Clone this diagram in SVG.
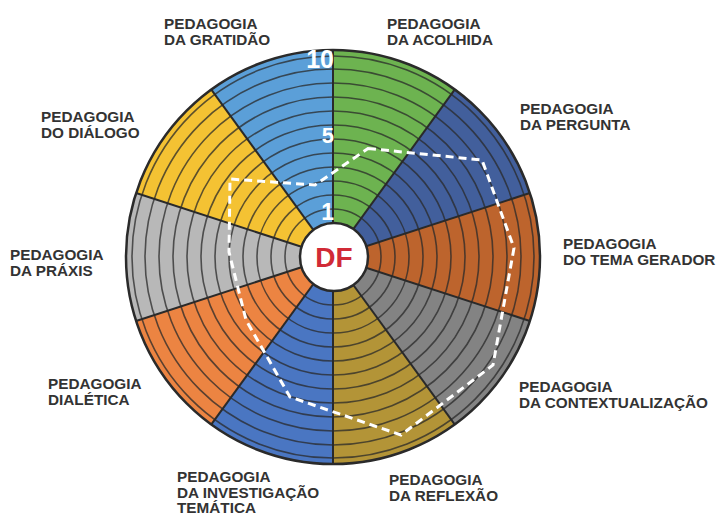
<svg xmlns="http://www.w3.org/2000/svg" width="719" height="517" viewBox="0 0 719 517">
  <style>
    .sec { stroke: none; }
    .ring { fill: none; stroke: #2a2a2a; stroke-opacity: 0.75; stroke-width: 1.6; }
    .spoke { stroke: #2a2a2a; stroke-width: 2; }
    .lbl { font-family: "Liberation Sans", Arial, sans-serif; font-weight: bold; font-size: 15.3px; fill: #333333; }
    .num { font-family: "Liberation Sans", Arial, sans-serif; font-weight: bold; fill: #ffffff; text-anchor: end; }
    .score { fill: none; stroke: #ffffff; stroke-width: 3; stroke-dasharray: 8 5; stroke-linejoin: miter; }
  </style>
  <rect width="719" height="517" fill="#ffffff"/>

  <g id="wheel">
    <g id="sector-acolhida"><path class="sec" fill="#6db350" d="M333,257 L333,50 A207,207 0 0 1 454.67,89.54 Z"/></g>
    <g id="sector-pergunta"><path class="sec" fill="#425f9c" d="M333,257 L454.67,89.54 A207,207 0 0 1 529.88,193.04 Z"/></g>
    <g id="sector-tema-gerador"><path class="sec" fill="#bd642d" d="M333,257 L529.88,193.04 A207,207 0 0 1 529.88,320.96 Z"/></g>
    <g id="sector-contextualizacao"><path class="sec" fill="#838383" d="M333,257 L529.88,320.96 A207,207 0 0 1 454.67,424.46 Z"/></g>
    <g id="sector-reflexao"><path class="sec" fill="#b39437" d="M333,257 L454.67,424.46 A207,207 0 0 1 333,464 Z"/></g>
    <g id="sector-investigacao"><path class="sec" fill="#4a76c2" d="M333,257 L333,464 A207,207 0 0 1 211.33,424.46 Z"/></g>
    <g id="sector-dialetica"><path class="sec" fill="#ec8442" d="M333,257 L211.33,424.46 A207,207 0 0 1 136.12,320.96 Z"/></g>
    <g id="sector-praxis"><path class="sec" fill="#b8b8b8" d="M333,257 L136.12,320.96 A207,207 0 0 1 136.12,193.04 Z"/></g>
    <g id="sector-dialogo"><path class="sec" fill="#f4c233" d="M333,257 L136.12,193.04 A207,207 0 0 1 211.33,89.54 Z"/></g>
    <g id="sector-gratidao"><path class="sec" fill="#5b9fd8" d="M333,257 L211.33,89.54 A207,207 0 0 1 333,50 Z"/></g>

    <g id="rings">
      <circle class="ring" cx="333" cy="257" r="48"/>
      <circle class="ring" cx="333" cy="257" r="62"/>
      <circle class="ring" cx="333" cy="257" r="76"/>
      <circle class="ring" cx="333" cy="257" r="90"/>
      <circle class="ring" cx="333" cy="257" r="104"/>
      <circle class="ring" cx="333" cy="257" r="118"/>
      <circle class="ring" cx="333" cy="257" r="132"/>
      <circle class="ring" cx="333" cy="257" r="146"/>
      <circle class="ring" cx="333" cy="257" r="160"/>
      <circle class="ring" cx="333" cy="257" r="174"/>
      <circle class="ring" cx="333" cy="257" r="188"/>
      <circle class="ring" cx="333" cy="257" r="201"/>
    </g>

    <g id="spokes">
      <line class="spoke" x1="333" y1="257" x2="333" y2="50"/>
      <line class="spoke" x1="333" y1="257" x2="454.67" y2="89.54"/>
      <line class="spoke" x1="333" y1="257" x2="529.88" y2="193.04"/>
      <line class="spoke" x1="333" y1="257" x2="529.88" y2="320.96"/>
      <line class="spoke" x1="333" y1="257" x2="454.67" y2="424.46"/>
      <line class="spoke" x1="333" y1="257" x2="333" y2="464"/>
      <line class="spoke" x1="333" y1="257" x2="211.33" y2="424.46"/>
      <line class="spoke" x1="333" y1="257" x2="136.12" y2="320.96"/>
      <line class="spoke" x1="333" y1="257" x2="136.12" y2="193.04"/>
      <line class="spoke" x1="333" y1="257" x2="211.33" y2="89.54"/>
    </g>

    <circle id="rim" cx="333" cy="257" r="207" fill="none" stroke="#2a2a2a" stroke-width="2.5"/>

    <g id="scale">
      <text class="num" x="334" y="68" font-size="25">10</text>
      <text class="num" x="334" y="143" font-size="22">5</text>
      <text class="num" x="334" y="220" font-size="23">1</text>
    </g>
  </g>

  <g id="connectors">
    <polygon id="score-line" class="score" points="368,148.5 482,160 514,248 493,365 401,435 290,397 246,320 229,252 230,179 315,185"/>
  </g>

  <g id="center-df">
    <circle cx="334" cy="257" r="34" fill="#ffffff" stroke="#2a2a2a" stroke-width="2.5"/>
    <text x="334" y="267" text-anchor="middle" font-family="Liberation Sans, Arial, sans-serif" font-weight="bold" font-size="28" fill="#d12a36">DF</text>
  </g>

  <g id="label-gratidao"><text class="lbl" x="164" y="29">PEDAGOGIA</text><text class="lbl" x="164" y="44.5">DA GRATIDÃO</text></g>
  <g id="label-acolhida"><text class="lbl" x="387" y="29">PEDAGOGIA</text><text class="lbl" x="387" y="44.5">DA ACOLHIDA</text></g>
  <g id="label-pergunta"><text class="lbl" x="520" y="114">PEDAGOGIA</text><text class="lbl" x="520" y="129.5">DA PERGUNTA</text></g>
  <g id="label-dialogo"><text class="lbl" x="41" y="122">PEDAGOGIA</text><text class="lbl" x="41" y="137.5">DO DIÁLOGO</text></g>
  <g id="label-tema-gerador"><text class="lbl" x="563" y="249">PEDAGOGIA</text><text class="lbl" x="563" y="264.5">DO TEMA GERADOR</text></g>
  <g id="label-praxis"><text class="lbl" x="10" y="260">PEDAGOGIA</text><text class="lbl" x="10" y="275.5">DA PRÁXIS</text></g>
  <g id="label-contextualizacao"><text class="lbl" x="519" y="392">PEDAGOGIA</text><text class="lbl" x="519" y="407.5">DA CONTEXTUALIZAÇÃO</text></g>
  <g id="label-dialetica"><text class="lbl" x="48" y="389">PEDAGOGIA</text><text class="lbl" x="48" y="404.5">DIALÉTICA</text></g>
  <g id="label-investigacao"><text class="lbl" x="177" y="482">PEDAGOGIA</text><text class="lbl" x="177" y="497.5">DA INVESTIGAÇÃO</text><text class="lbl" x="177" y="513">TEMÁTICA</text></g>
  <g id="label-reflexao"><text class="lbl" x="389" y="485">PEDAGOGIA</text><text class="lbl" x="389" y="500.5">DA REFLEXÃO</text></g>
</svg>
